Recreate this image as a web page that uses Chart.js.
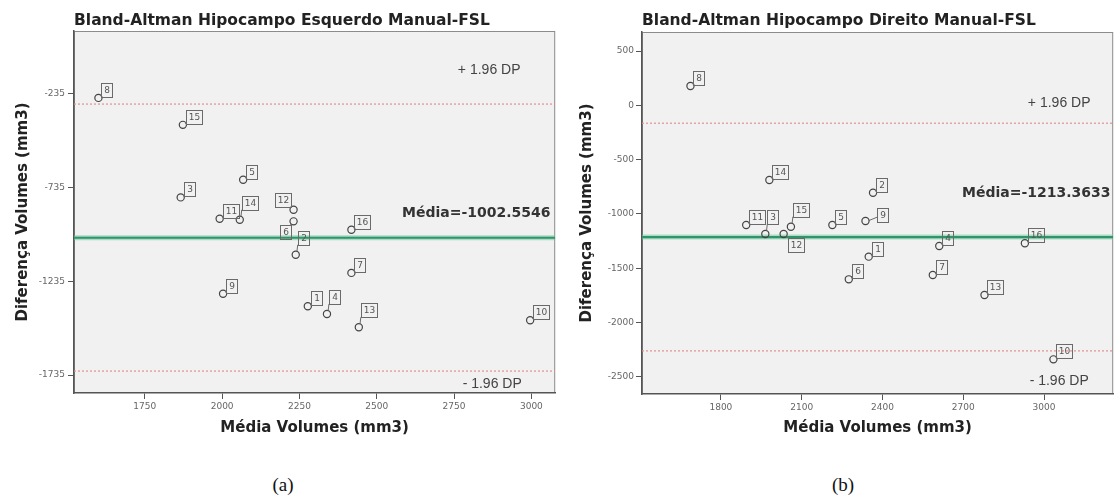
<!DOCTYPE html>
<html><head><meta charset="utf-8">
<script src="https://cdn.jsdelivr.net/npm/chart.js@4.4.1/dist/chart.umd.min.js"></script>
<style>
html,body{margin:0;padding:0;background:#fff;width:1118px;height:502px;overflow:hidden;}
#wa{position:absolute;left:0;top:0;width:560px;height:460px;}
#wb{position:absolute;left:560px;top:0;width:558px;height:460px;}
.cap{position:absolute;top:472px;font-family:"Liberation Serif","DejaVu Serif",serif;font-size:19px;color:#111;width:60px;text-align:center;line-height:26px;}
</style></head><body>
<div id="wa"><canvas id="ca" width="560" height="460"></canvas></div>
<div id="wb"><canvas id="cb" width="558" height="460"></canvas></div>
<div class="cap" style="left:253px">(a)</div>
<div class="cap" style="left:813px">(b)</div>
<script>
// ---- Data: (a) Hipocampo Esquerdo ----
const leftCases   = [1,2,3,4,5,6,7,8,9,10,11,12,13,14,15,16];
const leftMeanVol = [2277,2238,1866,2339,2068,2231,2418,1600,2003,2996,1992,2231,2442,2057,1873,2418];
const leftDiffVol = [-1368,-1093,-787,-1409,-693,-915,-1190,-256,-1301,-1443,-901,-853,-1480,-906,-400,-960];
const leftBias  = -1002.5546;
const leftUpper = -289;
const leftLower = -1714;
const leftXTicks = [1750,2000,2250,2500,2750,3000];
const leftYTicks = [-235,-735,-1235,-1735];
const leftXRange = [1521,3077];
const leftYRange = [-1831,101];

// ---- Data: (b) Hipocampo Direito ----
const rightCases   = [1,2,3,4,5,6,7,8,9,10,11,12,13,14,15,16];
const rightMeanVol = [2349,2365,1965,2611,2214,2275,2587,1687,2337,3035,1894,2033,2779,1980,2060,2929];
const rightDiffVol = [-1394,-805,-1185,-1296,-1103,-1603,-1563,178,-1066,-2340,-1103,-1185,-1747,-688,-1118,-1271];
const rightBias  = -1213.3633;
const rightUpper = -165;
const rightLower = -2262;
const rightXTicks = [1800,2100,2400,2700,3000];
const rightYTicks = [500,0,-500,-1000,-1500,-2000,-2500];
const rightXRange = [1507,3257];
const rightYRange = [-2659,675];

const FONT = '"DejaVu Sans", sans-serif';

const plotFrame = {
  id:'plotFrame',
  beforeDraw(chart){
    const {ctx, chartArea:a} = chart;
    ctx.save();
    ctx.fillStyle = '#f1f1f1';
    ctx.fillRect(a.left, a.top, a.right-a.left, a.bottom-a.top);
    ctx.strokeStyle = '#8c8c8c'; ctx.lineWidth = 1;
    ctx.strokeRect(a.left+0.5, a.top+0.5, a.right-a.left-1, a.bottom-a.top-1);
    ctx.restore();
  }
};

const caseLabels = {
  id:'caseLabels',
  afterDatasetsDraw(chart, args, opts){
    const meta = chart.getDatasetMeta(0);
    const ids = chart.data.datasets[0].caseIds;
    const place = opts.placement || {};
    const ctx = chart.ctx;
    ctx.save();
    ctx.font = '9px ' + FONT;
    ctx.textAlign = 'center'; ctx.textBaseline = 'middle';
    ctx.strokeStyle = '#6a6a6a'; ctx.fillStyle = '#555'; ctx.lineWidth = 1;
    meta.data.forEach((pt, i) => {
      const txt = String(ids[i]);
      const w = Math.round(ctx.measureText(txt).width + 5), h = 14;
      const cx = pt.x, cy = pt.y;
      let bx, by, l;
      switch (place[ids[i]]) {
        case 'up':    bx = cx+2;   by = cy-10-h; l = [cx+1.2, cy-3.3, cx+2, cy-10]; break;
        case 'ul':    bx = cx-3-w; by = cy-3-h;  l = [cx-2.5, cy-2.5, cx-3, cy-3]; break;
        case 'll':    bx = cx-3-w; by = cy+4;    l = [cx-2.5, cy+2.5, cx-3, cy+4]; break;
        case 'lr':    bx = cx+4;   by = cy+4;    l = [cx+2.5, cy+2.5, cx+4, cy+4]; break;
        case 'right': bx = cx+12;  by = cy+1-h;  l = [cx+3.5, cy-0.5, cx+12, cy-4]; break;
        default:      bx = cx+3;   by = cy-1-h;  l = [cx+2.5, cy-2.5, cx+3, cy-1];
      }
      bx = Math.round(bx)+0.5; by = Math.round(by)+0.5;
      ctx.beginPath(); ctx.moveTo(l[0], l[1]); ctx.lineTo(l[2], l[3]); ctx.stroke();
      ctx.strokeRect(bx, by, w, h);
      ctx.fillText(txt, bx + w/2, by + h/2 + 0.5);
    });
    ctx.restore();
  }
};

const baText = {
  id:'baText',
  afterDatasetsDraw(chart, args, opts){
    const {ctx, chartArea:a} = chart;
    ctx.save();
    ctx.textAlign = 'center'; ctx.textBaseline = 'middle';
    (opts.items || []).forEach(it => {
      ctx.font = (it.bold ? 'bold ' : '') + it.size + 'px ' + it.family;
      ctx.fillStyle = it.color;
      const y = it.anchor === 'bottom' ? a.bottom + it.dy : a.top + it.dy;
      ctx.fillText(it.text, a.right + it.dx, y);
    });
    ctx.restore();
  }
};

function hLine(xr, v){ return [{x:xr[0], y:v}, {x:xr[1], y:v}]; }

function makeChart(id, o){
  const pts = o.xs.map((x,i) => ({x, y:o.ys[i]}));
  return new Chart(document.getElementById(id), {
    type:'scatter',
    data:{ datasets:[
      { data:pts, caseIds:o.cases, pointStyle:'circle', pointRadius:3.6, pointHoverRadius:3.6,
        backgroundColor:'rgba(0,0,0,0)', borderColor:'#444', borderWidth:1.2 },
      { data:hLine(o.xr, o.upper), showLine:true, pointRadius:0, borderColor:'#e39090', borderWidth:1.2, borderDash:[2,2] },
      { data:hLine(o.xr, o.lower), showLine:true, pointRadius:0, borderColor:'#e39090', borderWidth:1.2, borderDash:[2,2] },
      { data:hLine(o.xr, o.bias), showLine:true, pointRadius:0, borderColor:'#2f9468', borderWidth:2.2 },
      { data:hLine(o.xr, o.bias), showLine:true, pointRadius:0, borderColor:'rgba(110,200,160,0.55)', borderWidth:5 }
    ]},
    options:{
      responsive:false, animation:false, events:[],
      layout:{ padding:{ left:0, right:o.padRight, top:0, bottom:0 } },
      plugins:{
        legend:{display:false}, tooltip:{enabled:false},
        title:{ display:true, text:o.title, align:'start', fullSize:false, color:'#222',
                font:{family:FONT, size:15.5, weight:'bold'}, padding:{top:o.titleTop, bottom:o.titleBottom} },
        caseLabels:{ placement:o.placement },
        baText:{ items:o.texts }
      },
      scales:{
        x:{ type:'linear', position:'bottom', min:o.xr[0], max:o.xr[1],
            afterBuildTicks:s => { s.ticks = o.xt.map(v => ({value:v})); },
            afterFit:s => { s.height = o.xAxisH; },
            ticks:{ font:{family:FONT, size:9}, color:'#666', padding:2, callback:v => String(v) },
            grid:{ drawOnChartArea:false, tickLength:6, tickColor:'#555', tickWidth:1 },
            border:{ display:true, color:'#555', width:1.5 },
            title:{ display:true, text:'Média Volumes (mm3)', color:'#222',
                    font:{family:FONT, size:15, weight:'bold'}, padding:{top:0, bottom:23} } },
        y:{ type:'linear', position:'left', min:o.yr[0], max:o.yr[1],
            afterBuildTicks:s => { s.ticks = o.yt.map(v => ({value:v})); },
            afterFit:s => { s.width = o.yAxisW; },
            ticks:{ font:{family:FONT, size:9}, color:'#666', padding:o.yTickPad, callback:v => String(v) },
            grid:{ drawOnChartArea:false, tickLength:6, tickColor:'#555', tickWidth:1 },
            border:{ display:true, color:'#555', width:1.5 },
            title:{ display:true, text:'Diferença Volumes (mm3)', color:'#222',
                    font:{family:FONT, size:15, weight:'bold'}, padding:{top:o.yTitlePad, bottom:0} } }
      }
    },
    plugins:[plotFrame, caseLabels, baText]
  });
}

makeChart('ca', {
  cases:leftCases, xs:leftMeanVol, ys:leftDiffVol, bias:leftBias, upper:leftUpper, lower:leftLower,
  xr:leftXRange, yr:leftYRange, xt:leftXTicks, yt:leftYTicks,
  title:'Bland-Altman Hipocampo Esquerdo Manual-FSL', titleTop:12, titleBottom:0.4,
  padRight:4, xAxisH:67, yAxisW:74, yTickPad:3, yTitlePad:14,
  placement:{12:'ul', 6:'ll', 2:'up', 13:'up', 4:'up', 14:'up'},
  texts:[
    {text:'+ 1.96 DP', dx:-66, dy:39, anchor:'top', size:14, family:'"Liberation Sans", sans-serif', color:'#444'},
    {text:'Média=' + leftBias.toFixed(4), dx:-79, dy:182, anchor:'top', size:14, bold:true, family:FONT, color:'#333'},
    {text:'- 1.96 DP', dx:-63, dy:-9, anchor:'bottom', size:14, family:'"Liberation Sans", sans-serif', color:'#444'}
  ]
});

makeChart('cb', {
  cases:rightCases, xs:rightMeanVol, ys:rightDiffVol, bias:rightBias, upper:rightUpper, lower:rightLower,
  xr:rightXRange, yr:rightYRange, xt:rightXTicks, yt:rightYTicks,
  title:'Bland-Altman Hipocampo Direito Manual-FSL', titleTop:12, titleBottom:1.4,
  padRight:2, xAxisH:66, yAxisW:82, yTickPad:2, yTitlePad:18,
  placement:{3:'up', 15:'up', 12:'lr', 9:'right'},
  texts:[
    {text:'+ 1.96 DP', dx:-54, dy:71, anchor:'top', size:14, family:'"Liberation Sans", sans-serif', color:'#444'},
    {text:'Média=' + rightBias.toFixed(4), dx:-77, dy:161, anchor:'top', size:14, bold:true, family:FONT, color:'#333'},
    {text:'- 1.96 DP', dx:-54, dy:-13, anchor:'bottom', size:14, family:'"Liberation Sans", sans-serif', color:'#444'}
  ]
});
</script>
</body></html>
